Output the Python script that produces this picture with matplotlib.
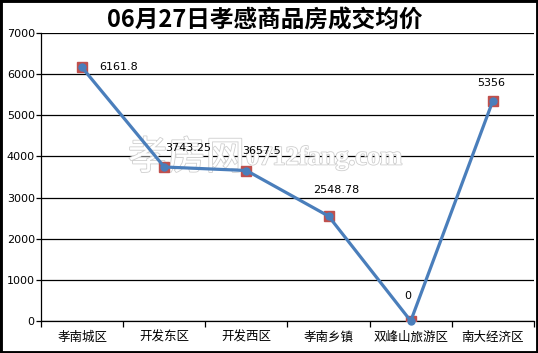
import matplotlib
matplotlib.use("Agg")
import matplotlib.pyplot as plt
import matplotlib.patheffects as pe
from matplotlib.patches import Rectangle

plt.rcParams['font.family'] = ['Noto Sans CJK SC', 'DejaVu Sans']

title = "06月27日孝感商品房成交均价"
districts = ["孝南城区", "开发东区", "开发西区", "孝南乡镇", "双峰山旅游区", "南大经济区"]
prices = [6161.8, 3743.25, 3657.5, 2548.78, 0, 5356]
labels = ["6161.8", "3743.25", "3657.5", "2548.78", "0", "5356"]
# label offsets in points (dx, dy) and horizontal alignment, as placed in the original
label_pos = [(12, 0, "left"), (1, 14, "left"), (-3, 14, "left"),
             (-11, 19, "left"), (-2, 18, "center"), (-1, 13, "center")]

fig = plt.figure(figsize=(5.38, 3.53), dpi=100)
ax = fig.add_axes([41 / 538, 32 / 353, 493 / 538, 288 / 353])

x = list(range(len(districts)))
ax.plot(x, prices, ls="none", marker="s", ms=7, mfc="#C0504D", mec="#C0504D", zorder=3)
ax.plot(x, prices, color="#4A7EBB", lw=2.3, marker="o", ms=5, mfc="#4A7EBB", mec="#4A7EBB",
        zorder=4, clip_on=False)

for xi, yi, lab, (dx, dy, ha) in zip(x, prices, labels, label_pos):
    ax.annotate(lab, (xi, yi), xytext=(dx, dy), textcoords="offset points", ha=ha, va="center",
                fontsize=8, family="DejaVu Sans", zorder=5)

ax.set_xlim(-0.5, len(districts) - 0.5)
ax.set_ylim(0, 7000)
ax.set_yticks(range(0, 7001, 1000))
ax.yaxis.grid(True, color="black", lw=0.9)
ax.set_axisbelow(True)
ax.set_xticks(x)
ax.set_xticklabels(districts, fontsize=9)
ax.set_xticks([i - 0.5 for i in range(len(districts) + 1)], minor=True)
ax.tick_params(axis="x", which="major", length=0, pad=7)
ax.tick_params(axis="x", which="minor", length=4.5, width=0.9, direction="out")
ax.tick_params(axis="y", length=3.5, width=0.9, pad=1, labelsize=8)
for lab in ax.get_yticklabels():
    lab.set_family("DejaVu Sans")
for s in ["top", "right"]:
    ax.spines[s].set_visible(False)
for s in ["left", "bottom"]:
    ax.spines[s].set_color("black")
    ax.spines[s].set_linewidth(0.9)

# site watermark (pixel coords from bottom-left)
ax.text(128, 195, "孝房网", transform=None, fontsize=28, color="white", va="center", ha="left",
        path_effects=[pe.withStroke(linewidth=1.2, foreground="#cfcfcf")], zorder=2)
ax.text(246, 195, "0712fang.com", transform=None, fontsize=19, color="white", va="center", ha="left",
        family="Liberation Serif", weight="bold",
        path_effects=[pe.withStroke(linewidth=1.2, foreground="#cfcfcf")], zorder=2)

fig.text(265 / 538, 1 - 21 / 353, title, ha="center", va="center", fontsize=17, weight="bold")
fig.patches.append(Rectangle((0, 0), 1, 1, transform=fig.transFigure, fill=False,
                             edgecolor="black", lw=3.5))

fig.savefig("out.png", dpi=100)
